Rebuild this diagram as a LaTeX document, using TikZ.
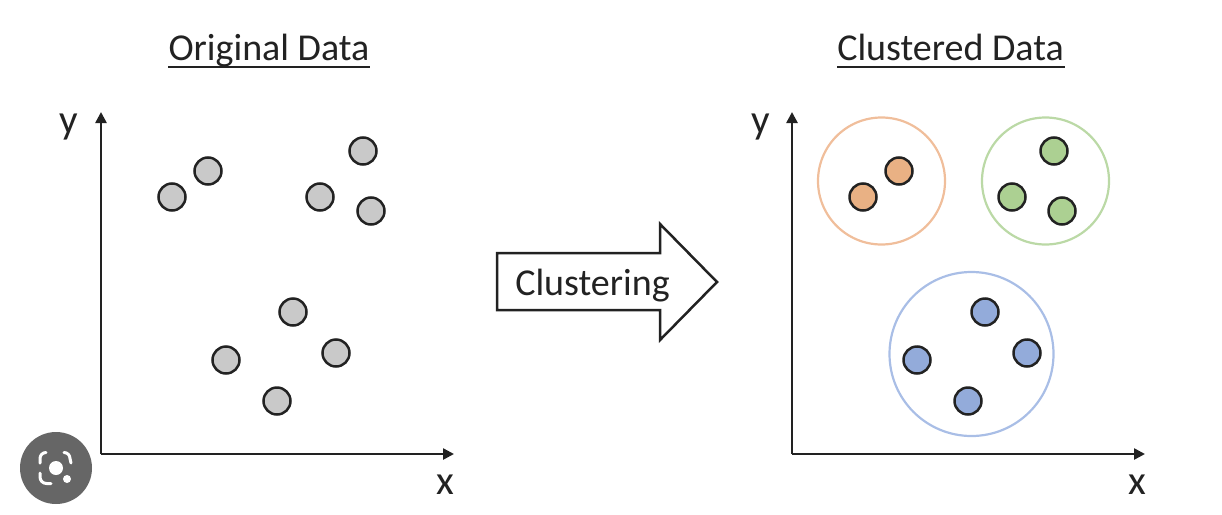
\documentclass[tikz,border=0pt]{standalone}
\usepackage{fontspec}
\setmainfont{Carlito}
\usetikzlibrary{arrows.meta}
\definecolor{ptgray}{HTML}{C9C9C9}
\definecolor{ptorange}{HTML}{E9B184}
\definecolor{ptgreen}{HTML}{ACD092}
\definecolor{ptblue}{HTML}{93ABDA}
\definecolor{ringorange}{HTML}{F0BE9B}
\definecolor{ringgreen}{HTML}{BBD9A6}
\definecolor{ringblue}{HTML}{A9BEE6}
\definecolor{ink}{HTML}{222222}
\definecolor{lens}{HTML}{666666}
\tikzset{
  x=1pt,y=-1pt,
  pt/.style={circle,draw=ink,line width=2.5pt,minimum size=27pt,inner sep=0pt},
  ring/.style={circle,line width=2.2pt,inner sep=0pt},
  axis/.style={draw=ink,line width=2.5pt,-{Triangle[length=11pt,width=11pt]}},
  lbl/.style={font=\fontsize{41}{41}\selectfont,text=ink,inner sep=0pt},
  title/.style={font=\fontsize{38}{38}\selectfont,text=ink,inner sep=0pt,anchor=base},
  uline/.style={draw=ink,line width=2pt},
  flow/.style={draw=ink,line width=2.5pt,fill=white,line join=miter},
}
\begin{document}
\begin{tikzpicture}
\useasboundingbox (0,0) rectangle (1222,514);
% titles
\node[title] (t1) at (269,60) {Original Data};
\node[title] (t2) at (950.5,60) {Clustered Data};
\coordinate (t1a) at (168,67); \coordinate (t1b) at (370,67);
\coordinate (t2a) at (837,67); \coordinate (t2b) at (1065,67);
\draw[uline] (t1a) -- (t1b);
\draw[uline] (t2a) -- (t2b);
% left axes
\coordinate (o1) at (101,454);
\coordinate (y1) at (101,112);
\coordinate (x1) at (454,454);
\draw[axis] (o1) -- (y1);
\draw[axis] (o1) -- (x1);
\node[lbl] (ly1) at (68.5,127) {y};
\node[lbl] (lx1) at (445,485) {x};
% right axes
\coordinate (o2) at (792,454);
\coordinate (y2) at (792,112);
\coordinate (x2) at (1145,454);
\draw[axis] (o2) -- (y2);
\draw[axis] (o2) -- (x2);
\node[lbl] (ly2) at (760.5,127) {y};
\node[lbl] (lx2) at (1137,485) {x};
% left points
\node[pt,fill=ptgray] (a1) at (172,197) {};
\node[pt,fill=ptgray] (a2) at (208,171) {};
\node[pt,fill=ptgray] (a3) at (320,197) {};
\node[pt,fill=ptgray] (a4) at (363,151) {};
\node[pt,fill=ptgray] (a5) at (371,211) {};
\node[pt,fill=ptgray] (a6) at (293,312) {};
\node[pt,fill=ptgray] (a7) at (336,353) {};
\node[pt,fill=ptgray] (a8) at (226,360) {};
\node[pt,fill=ptgray] (a9) at (277,401) {};
% rings
\node[ring,draw=ringorange,minimum size=127pt] (r1) at (881.5,181) {};
\node[ring,draw=ringgreen,minimum size=127pt] (r2) at (1045.5,181) {};
\node[ring,draw=ringblue,minimum size=164pt] (r3) at (971.5,354) {};
% right points
\node[pt,fill=ptorange] (b1) at (863,197) {};
\node[pt,fill=ptorange] (b2) at (899,171) {};
\node[pt,fill=ptgreen] (b3) at (1012,197) {};
\node[pt,fill=ptgreen] (b4) at (1054,151) {};
\node[pt,fill=ptgreen] (b5) at (1062,211) {};
\node[pt,fill=ptblue] (b6) at (985,312) {};
\node[pt,fill=ptblue] (b7) at (1027,353) {};
\node[pt,fill=ptblue] (b8) at (917,360) {};
\node[pt,fill=ptblue] (b9) at (968,401) {};
% block arrow
\draw[flow] (497,253) -- (660,253) -- (660,224) -- (717,282) -- (660,340) -- (660,310) -- (497,310) -- cycle;
\node[font=\fontsize{38}{38}\selectfont,text=ink,inner sep=0pt,anchor=base] (cl) at (592.5,295) {Clustering};
% lens badge
\fill[lens] (56,468) circle (36);
\begin{scope}[draw=white,line width=3pt,line cap=round]
\draw (46,452.5) arc (270:180:6) -- (40,463);
\draw (64,452.5) arc (270:360:6) -- (71,463);
\draw (40,473) -- (40,477) arc (180:90:6.5) -- (51,483.5);
\end{scope}
\fill[white] (56,468) circle (7);
\fill[white] (67,479) circle (4);
\end{tikzpicture}
\end{document}
